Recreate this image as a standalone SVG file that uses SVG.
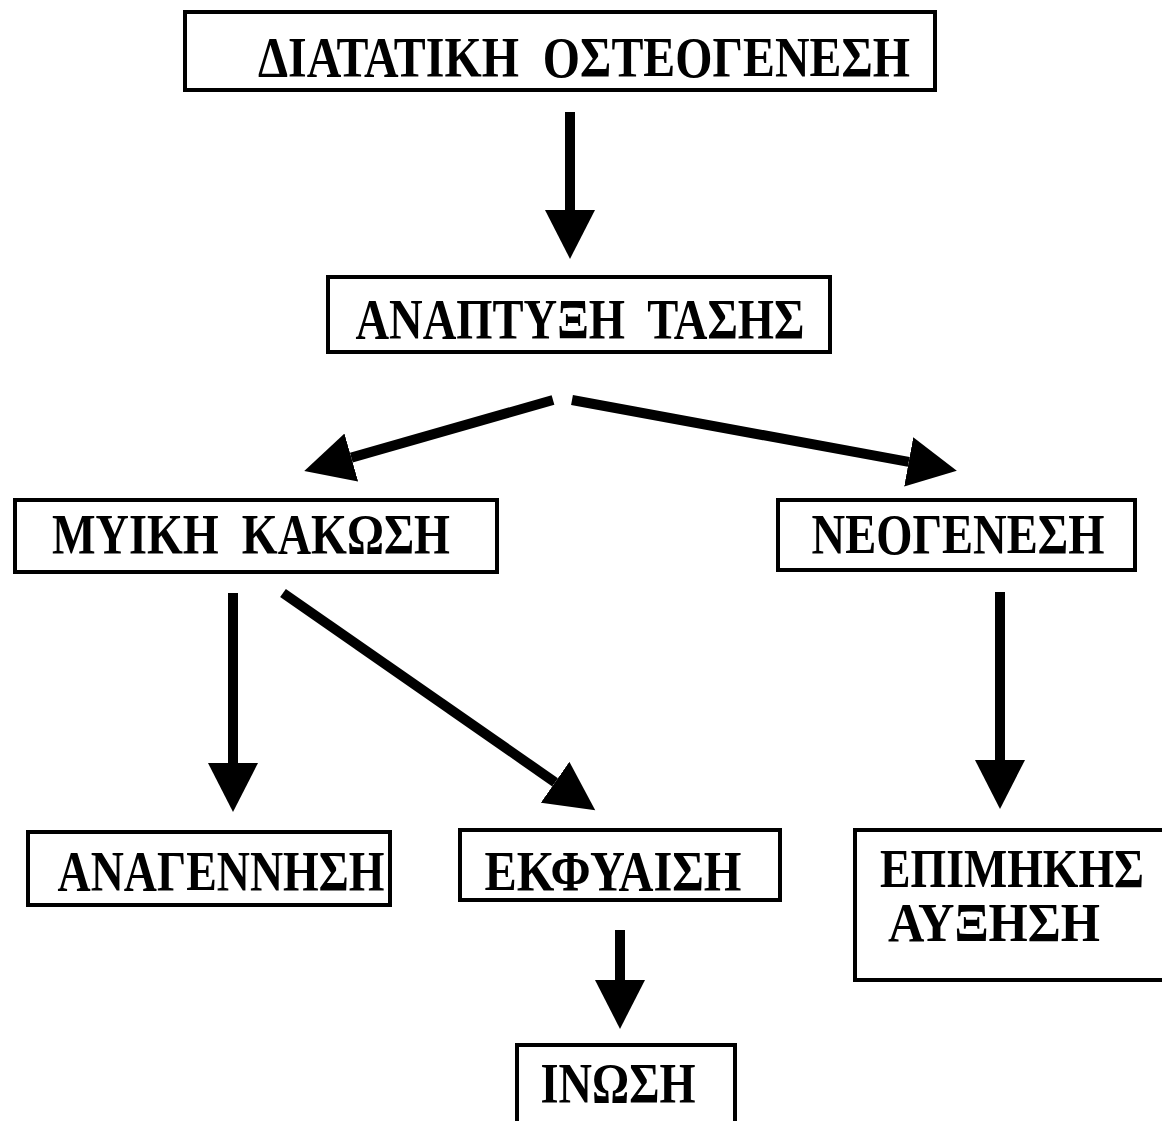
<svg xmlns="http://www.w3.org/2000/svg" width="1162" height="1121" viewBox="0 0 1162 1121">
<defs>
<style>
.box{fill:#fff;stroke:#000;stroke-width:4}
.t{font-family:"Liberation Serif","Times New Roman",serif;font-weight:bold;font-size:58px;fill:#000;text-anchor:middle;white-space:pre}
.s{font-size:54px}
.c{stroke:#000;stroke-width:10;fill:none;marker-end:url(#ah)}
</style>
<marker id="ah" markerUnits="userSpaceOnUse" markerWidth="50" markerHeight="50" refX="0" refY="23" orient="auto" viewBox="0 0 46 46">
<path d="M0,0 L45,23 L0,46 Z" fill="#000"/>
</marker>
</defs>
<rect width="1162" height="1121" fill="#fff"/>
<g id="connectors">
<line class="c" x1="570" y1="112" x2="570" y2="210"/>
<line class="c" x1="553" y1="400" x2="351.3" y2="457.6"/>
<line class="c" x1="572" y1="400" x2="908.7" y2="461.9"/>
<line class="c" x1="233" y1="593" x2="233" y2="763"/>
<line class="c" x1="283" y1="593" x2="555.1" y2="782.3"/>
<line class="c" x1="1000" y1="592" x2="1000" y2="760"/>
<line class="c" x1="620" y1="930" x2="620" y2="980"/>
</g>
<g id="n1"><rect class="box" x="185" y="12" width="750" height="78"/><text class="t" x="584" y="77" textLength="652" lengthAdjust="spacingAndGlyphs">ΔΙΑΤΑΤΙΚΗ  ΟΣΤΕΟΓΕΝΕΣΗ</text></g>
<g id="n2"><rect class="box" x="328" y="277" width="502" height="75"/><text class="t" x="580" y="339" textLength="449" lengthAdjust="spacingAndGlyphs">ΑΝΑΠΤΥΞΗ  ΤΑΣΗΣ</text></g>
<g id="n3"><rect class="box" x="15" y="500" width="482" height="72"/><text class="t" x="251" y="554" textLength="398" lengthAdjust="spacingAndGlyphs">ΜΥΙΚΗ  ΚΑΚΩΣΗ</text></g>
<g id="n4"><rect class="box" x="778" y="500" width="357" height="70"/><text class="t" x="958" y="554" textLength="293" lengthAdjust="spacingAndGlyphs">ΝΕΟΓΕΝΕΣΗ</text></g>
<g id="n5"><rect class="box" x="28" y="832" width="362" height="73"/><text class="t" x="221" y="891" textLength="327" lengthAdjust="spacingAndGlyphs">ΑΝΑΓΕΝΝΗΣΗ</text></g>
<g id="n6"><rect class="box" x="460" y="830" width="320" height="70"/><text class="t" x="613" y="891" textLength="257" lengthAdjust="spacingAndGlyphs">ΕΚΦΥΑΙΣΗ</text></g>
<g id="n7"><rect class="box" x="855" y="830" width="320" height="150"/><text class="t s" x="1012" y="887" textLength="264" lengthAdjust="spacingAndGlyphs">ΕΠΙΜΗΚΗΣ</text><text class="t s" x="994" y="941" textLength="212" lengthAdjust="spacingAndGlyphs">ΑΥΞΗΣΗ</text></g>
<g id="n8"><rect class="box" x="517" y="1045" width="218" height="90"/><text class="t" x="618" y="1103" textLength="155" lengthAdjust="spacingAndGlyphs">ΙΝΩΣΗ</text></g>
</svg>
